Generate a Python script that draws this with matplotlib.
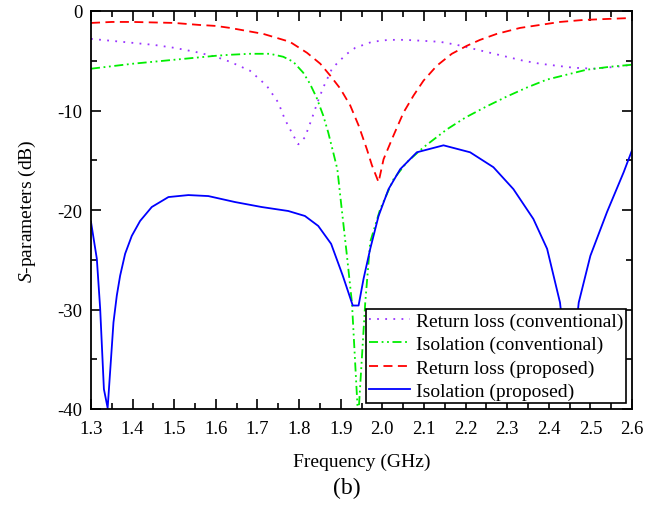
import matplotlib
matplotlib.use('Agg')
import matplotlib.pyplot as plt
from matplotlib.ticker import MultipleLocator

plt.rcParams['font.family'] = 'Liberation Serif'
plt.rcParams['mathtext.fontset'] = 'custom'
plt.rcParams['mathtext.it'] = 'Liberation Serif:italic'
plt.rcParams['mathtext.rm'] = 'Liberation Serif'
plt.rcParams['axes.unicode_minus'] = False

# return loss (conventional)
f_rl_conv = [1.30, 1.35, 1.40, 1.45, 1.50, 1.55, 1.60, 1.634, 1.682, 1.722, 1.750, 1.766, 1.786,
             1.798, 1.814, 1.830, 1.844, 1.858, 1.879, 1.895, 1.915, 1.935, 1.975, 2.015, 2.055,
             2.099, 2.139, 2.179, 2.219, 2.259, 2.299, 2.339, 2.379, 2.419, 2.459, 2.507, 2.564,
             2.60]
s_rl_conv = [-2.8, -3.0, -3.2, -3.4, -3.7, -4.1, -4.6, -5.1, -6.0, -7.5, -9.2, -10.9, -12.5,
             -13.4, -12.7, -10.9, -9.2, -7.7, -5.8, -5.1, -4.3, -3.7, -3.1, -2.9, -2.9,
             -3.0, -3.1, -3.4, -3.8, -4.2, -4.6, -5.0, -5.3, -5.5, -5.7, -5.8, -5.6,
             -5.4]

# isolation (conventional)
f_iso_conv = [1.30, 1.40, 1.50, 1.60, 1.634, 1.682, 1.730, 1.762, 1.786, 1.810, 1.826, 1.842,
              1.858, 1.870, 1.882, 1.892, 1.899, 1.915, 1.927, 1.942, 1.959, 1.971, 1.995,
              2.027, 2.059, 2.099, 2.155, 2.20, 2.25, 2.299, 2.347, 2.395, 2.443, 2.491, 2.548,
              2.60]
s_iso_conv = [-5.8, -5.3, -4.9, -4.5, -4.4, -4.3, -4.3, -4.6, -5.1, -6.2, -7.3, -8.7,
              -10.5, -12.2, -14.2, -15.9, -18.6, -24.6, -29.3, -41.0, -29.3, -23.2, -19.9,
              -16.9, -15.2, -13.7, -11.9, -10.7, -9.6, -8.6, -7.7, -6.9, -6.4, -5.9, -5.6,
              -5.4]

# return loss (proposed)
f_rl_prop = [1.30, 1.35, 1.40, 1.50, 1.56, 1.60, 1.634, 1.714, 1.778, 1.819, 1.851, 1.875,
             1.899, 1.923, 1.943, 1.963, 1.975, 1.991, 2.003, 2.027, 2.051, 2.075, 2.099,
             2.131, 2.167, 2.203, 2.235, 2.275, 2.331, 2.379, 2.427, 2.483, 2.540, 2.60]
s_rl_prop = [-1.2, -1.1, -1.1, -1.2, -1.4, -1.5, -1.7, -2.3, -3.1, -4.2, -5.3, -6.5,
             -7.8, -9.5, -11.5, -13.9, -15.5, -17.2, -14.9, -12.5, -10.2, -8.5, -7.0,
             -5.5, -4.3, -3.5, -2.9, -2.3, -1.7, -1.4, -1.1, -0.9, -0.8, -0.7]

# isolation (proposed)
f_iso_prop = [1.300, 1.314, 1.322, 1.331, 1.340, 1.348, 1.354, 1.362, 1.370, 1.382, 1.398,
              1.418, 1.446, 1.486, 1.534, 1.582, 1.646, 1.710, 1.774, 1.814, 1.846, 1.877,
              1.905, 1.929, 1.943, 1.955, 1.971, 1.991, 2.015, 2.043, 2.083, 2.147, 2.211,
              2.267, 2.315, 2.363, 2.396, 2.427, 2.45, 2.472, 2.500, 2.540, 2.580, 2.60]
s_iso_prop = [-21.2, -24.9, -29.9, -38.0, -39.9, -35.0, -31.3, -28.6, -26.6, -24.4, -22.6,
              -21.1, -19.7, -18.7, -18.5, -18.6, -19.2, -19.7, -20.1, -20.6, -21.6, -23.4,
              -26.6, -29.6, -29.6, -26.9, -23.9, -20.6, -17.9, -15.9, -14.2, -13.5, -14.2,
              -15.7, -17.9, -20.9, -23.9, -29.3, -38.0, -29.3, -24.6, -20.2, -16.2, -14.0]

fig = plt.figure(figsize=(6.56, 5.06), dpi=100)
ax = fig.add_axes([91/656, 96/506, 541/656, 398/506])

ax.plot(f_rl_conv, s_rl_conv, color='#9933ff', lw=1.3, linestyle=(0, (1, 3.5)),
        label='Return loss (conventional)')
ax.plot(f_iso_conv, s_iso_conv, color='#00ee00', lw=1.3, linestyle=(0, (5, 2, 1, 2, 1, 2)),
        label='Isolation (conventional)')
ax.plot(f_rl_prop, s_rl_prop, color='#ff0000', lw=1.3, linestyle=(0, (5, 3)),
        label='Return loss (proposed)')
ax.plot(f_iso_prop, s_iso_prop, color='#0000ff', lw=1.3, label='Isolation (proposed)')

ax.set_xlim(1.3, 2.6)
ax.set_ylim(-40, 0)
ax.xaxis.set_major_locator(MultipleLocator(0.1))
ax.xaxis.set_minor_locator(MultipleLocator(0.05))
ax.yaxis.set_major_locator(MultipleLocator(10))
ax.yaxis.set_minor_locator(MultipleLocator(5))
ax.set_xticks(ax.get_xticks())
ax.set_xticklabels([f'{v:.1f}' for v in ax.get_xticks()])
ax.set_xlim(1.3, 2.6)
ax.tick_params(which='both', direction='in', top=True, right=True, width=1.2, labelsize=13.5)
ax.tick_params(which='major', length=7)
ax.tick_params(which='minor', length=4)
ax.tick_params(axis='x', which='major', pad=8)
ax.tick_params(axis='y', which='major', pad=6)
for s in ax.spines.values():
    s.set_linewidth(1.3)

ax.set_xlabel('Frequency (GHz)', fontsize=14, labelpad=11)
ax.set_ylabel(r'$S$-parameters (dB)', fontsize=14, labelpad=14)

leg = ax.legend(loc='lower right', fontsize=14, frameon=True, fancybox=False,
                edgecolor='black', framealpha=1, borderpad=0.15, labelspacing=0.3,
                handlelength=2.1, handletextpad=0.3, borderaxespad=0.3)
leg.get_frame().set_linewidth(1.2)

fig.text(0.529, 0.034, '(b)', fontsize=17, ha='center', va='center')

fig.savefig('out.png', dpi=100)
